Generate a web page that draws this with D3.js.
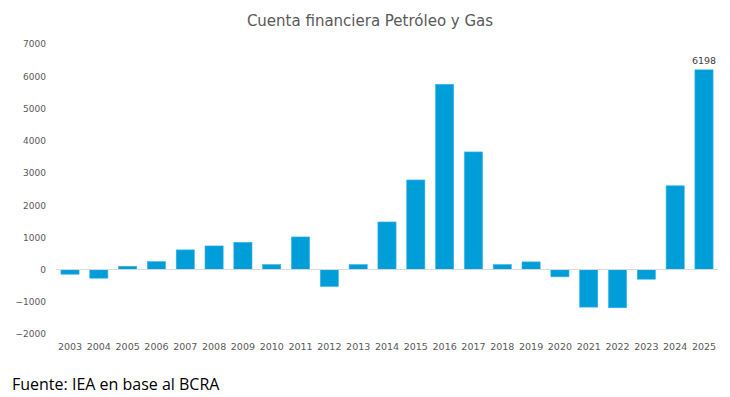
<!DOCTYPE html>
<html><head><meta charset="utf-8">
<script src="https://cdn.jsdelivr.net/npm/d3@7"></script>
<style>body{margin:0;background:#fff;}svg{display:block;}</style>
</head><body>
<svg id="chart" width="730" height="397"></svg>
<script>
const years = ["2003","2004","2005","2006","2007","2008","2009","2010","2011","2012","2013","2014","2015","2016","2017","2018","2019","2020","2021","2022","2023","2024","2025"];
const values = [-145,-268,102,248,610,733,845,155,1012,-526,155,1477,2780,5750,3650,155,238,-226,-1166,-1187,-300,2600,6198];
const yTicks = [-2000,-1000,0,1000,2000,3000,4000,5000,6000,7000];
const title = "Cuenta financiera Petróleo y Gas";
const source = "Fuente: IEA en base al BCRA";
const labeledYear = "2025";

const svg = d3.select("#chart");
const x = d3.scaleBand().domain(years).range([55.6, 718.4]).paddingInner(0.37).paddingOuter(0.185);
const y = d3.scaleLinear().domain([-2000, 7000]).range([334, 44]);

svg.append("text").attr("x", 370).attr("y", 26).attr("text-anchor","middle")
  .attr("font-family","DejaVu Sans").attr("font-size",15).attr("fill","#595959").text(title);

const yAxis = svg.append("g").attr("transform","translate(50,0)")
  .call(d3.axisLeft(y).tickValues(yTicks).tickSize(0).tickPadding(4).tickFormat(d3.format("d")));
yAxis.select(".domain").remove();
yAxis.selectAll("text").attr("font-family","DejaVu Sans").attr("font-size",9).attr("fill","#595959");

svg.selectAll("rect.bar").data(years.map((yr,i)=>({yr, v: values[i]}))).enter().append("rect")
  .attr("class","bar")
  .attr("x", d=>x(d.yr)).attr("width", x.bandwidth())
  .attr("y", d=>y(Math.max(0,d.v))).attr("height", d=>Math.abs(y(d.v)-y(0)))
  .attr("fill","#009ed8").attr("stroke","#3ab4e8").attr("stroke-width",0.6);

svg.append("line").attr("x1",55.6).attr("x2",718.4).attr("y1",y(0)).attr("y2",y(0))
  .attr("stroke","#d9d9d9").attr("stroke-width",1);

const xAxis = svg.append("g").attr("transform","translate(0,341)")
  .call(d3.axisBottom(x).tickSize(0).tickPadding(2));
xAxis.select(".domain").remove();
xAxis.selectAll("text").attr("font-family","DejaVu Sans").attr("font-size",9.5).attr("fill","#595959");

const li = years.indexOf(labeledYear);
svg.append("text").attr("x", x(labeledYear)+x.bandwidth()/2).attr("y", y(values[li])-6)
  .attr("text-anchor","middle").attr("font-family","DejaVu Sans").attr("font-size",9.5)
  .attr("fill","#404040").text(values[li]);

svg.append("text").attr("x",12).attr("y",390).attr("font-family","Open Sans").attr("font-size",16)
  .attr("fill","#000").text(source);
</script>
</body></html>
